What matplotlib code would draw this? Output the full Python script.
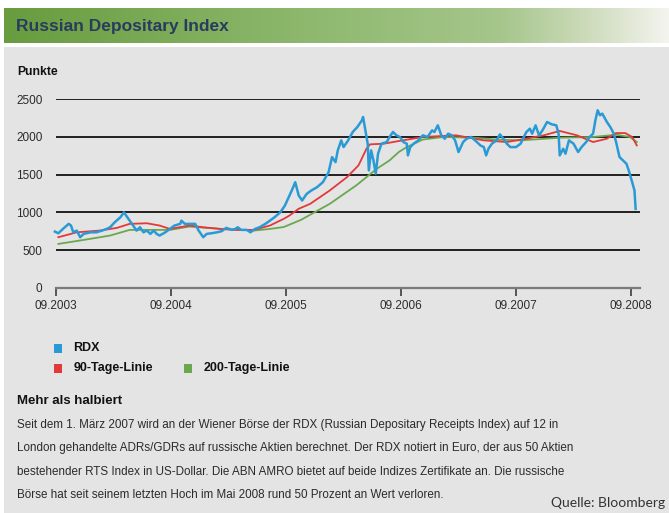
import numpy as np
import matplotlib
matplotlib.use("Agg")
import matplotlib.pyplot as plt
from matplotlib.colors import LinearSegmentedColormap
from matplotlib.patches import Rectangle

# RDX daily close (decimal year, points)
rdx_t = [2003.66, 2003.69, 2003.73, 2003.78, 2003.80, 2003.82, 2003.85, 2003.88, 2003.91, 2003.97,
         2004.02, 2004.07, 2004.11, 2004.14, 2004.18, 2004.23, 2004.26, 2004.29, 2004.31, 2004.34,
         2004.37, 2004.40, 2004.43, 2004.46, 2004.49, 2004.52, 2004.545, 2004.57, 2004.62, 2004.66,
         2004.70, 2004.75, 2004.76, 2004.79, 2004.83, 2004.88, 2004.91, 2004.95, 2004.98, 2005.02,
         2005.07, 2005.11, 2005.15, 2005.20, 2005.23, 2005.25, 2005.28, 2005.33, 2005.36, 2005.40,
         2005.44, 2005.49, 2005.53, 2005.57, 2005.62, 2005.66, 2005.68, 2005.72, 2005.75, 2005.78,
         2005.81, 2005.85, 2005.89, 2005.94, 2005.99, 2006.04, 2006.07, 2006.10, 2006.12, 2006.15,
         2006.17, 2006.21, 2006.25, 2006.29, 2006.33, 2006.34, 2006.36, 2006.38, 2006.39, 2006.41,
         2006.43, 2006.45, 2006.47, 2006.50, 2006.545, 2006.57, 2006.60, 2006.63, 2006.66, 2006.69,
         2006.72, 2006.73, 2006.75, 2006.78, 2006.82, 2006.86, 2006.90, 2006.94, 2006.96, 2006.99,
         2007.02, 2007.05, 2007.08, 2007.11, 2007.14, 2007.17, 2007.19, 2007.21, 2007.24, 2007.28,
         2007.33, 2007.36, 2007.39, 2007.41, 2007.43, 2007.46, 2007.50, 2007.53, 2007.56, 2007.59,
         2007.62, 2007.67, 2007.71, 2007.73, 2007.76, 2007.79, 2007.81, 2007.84, 2007.87, 2007.90,
         2007.94, 2007.98, 2008.02, 2008.04, 2008.05, 2008.08, 2008.10, 2008.13, 2008.17, 2008.21,
         2008.24, 2008.28, 2008.31, 2008.34, 2008.36, 2008.38, 2008.40, 2008.42, 2008.46, 2008.49,
         2008.52, 2008.54, 2008.57, 2008.60, 2008.63, 2008.65, 2008.68, 2008.70, 2008.71]
rdx_v = [745, 722, 780, 847, 825, 735, 758, 670, 714, 735,
         735, 758, 780, 802, 868, 935, 1000, 935, 890, 825,
         758, 802, 735, 758, 714, 758, 714, 692, 735, 780,
         825, 847, 890, 847, 847, 847, 758, 670, 714, 722,
         735, 750, 794, 767, 780, 802, 767, 767, 735, 780,
         802, 847, 890, 935, 1000, 1090, 1157, 1290, 1400, 1224,
         1157, 1246, 1290, 1334, 1400, 1533, 1733, 1666, 1822, 1955,
         1866, 1955, 2066, 2132, 2221, 2265, 2088, 1911, 1556, 1822,
         1689, 1512, 1778, 1911, 1932, 2000, 2066, 2022, 2000, 1933,
         1911, 1756, 1866, 1911, 1955, 2022, 2000, 2088, 2066, 2155,
         2022, 1977, 2044, 2022, 1955, 1800, 1866, 1933, 1977, 2000,
         1933, 1888, 1866, 1756, 1844, 1911, 1955, 2035, 1977, 1911,
         1866, 1866, 1911, 1977, 2066, 2110, 2044, 2155, 2022, 2088,
         2199, 2168, 2155, 2044, 1756, 1844, 1778, 1955, 1911, 1800,
         1866, 1933, 2000, 2044, 2221, 2354, 2288, 2310, 2199, 2132,
         2044, 1933, 1733, 1689, 1645, 1556, 1400, 1290, 1046]

# 90-Tage-Linie
ma90_t = [2003.69, 2003.85, 2004.05, 2004.20, 2004.31, 2004.46, 2004.57, 2004.66, 2004.83, 2004.95,
          2005.10, 2005.24, 2005.39, 2005.53, 2005.65, 2005.70, 2005.78, 2005.88, 2006.05, 2006.20,
          2006.30, 2006.37, 2006.40, 2006.52, 2006.65, 2006.86, 2007.15, 2007.39, 2007.59, 2007.76,
          2007.91, 2008.05, 2008.20, 2008.34, 2008.46, 2008.54, 2008.62, 2008.68, 2008.72]
ma90_v = [670, 735, 758, 794, 847, 855, 825, 780, 825, 802,
          780, 767, 767, 825, 914, 958, 1047, 1113, 1290, 1467,
          1623, 1845, 1902, 1911, 1946, 2000, 2022, 1955, 1933, 1977,
          2022, 2080, 2022, 1933, 1977, 2052, 2052, 2000, 1888]

# 200-Tage-Linie
ma200_t = [2003.69, 2003.91, 2004.14, 2004.31, 2004.49, 2004.66, 2004.83, 2005.10, 2005.39, 2005.53,
           2005.65, 2005.80, 2006.05, 2006.28, 2006.46, 2006.57, 2006.65, 2006.72, 2006.86, 2007.04,
           2007.30, 2007.50, 2007.71, 2008.05, 2008.34, 2008.54, 2008.66, 2008.72]
ma200_v = [581, 634, 692, 767, 767, 767, 811, 780, 758, 780,
           805, 900, 1113, 1357, 1579, 1689, 1800, 1866, 1966, 2000,
           1990, 1966, 1955, 1990, 2000, 2030, 2000, 1933]

y_ticks = [0, 500, 1000, 1500, 2000, 2500]
x_ticks = [2003.667, 2004.667, 2005.667, 2006.667, 2007.667, 2008.667]
x_labels = ["09.2003", "09.2004", "09.2005", "09.2006", "09.2007", "09.2008"]

body = ["Seit dem 1. M\u00e4rz 2007 wird an der Wiener B\u00f6rse der RDX (Russian Depositary Receipts Index) auf 12 in",
        "London gehandelte ADRs/GDRs auf russische Aktien berechnet. Der RDX notiert in Euro, der aus 50 Aktien",
        "bestehender RTS Index in US-Dollar. Die ABN AMRO bietet auf beide Indizes Zertifikate an. Die russische",
        "B\u00f6rse hat seit seinem letzten Hoch im Mai 2008 rund 50 Prozent an Wert verloren."]

BLUE = "#2a9ad6"
RED = "#e2393a"
GREEN = "#6aa84f"
GREY_BG = "#e4e4e4"
TXT = "#2b2b2b"
SANS = ["Liberation Sans Narrow", "Liberation Sans", "DejaVu Sans"]

W, H = 669, 513
fig = plt.figure(figsize=(W / 100, H / 100), dpi=100, facecolor="white")

def fx(px):
    return px / W

def fy(py):
    return 1 - py / H

# grey panel and header band
fig.patches.append(Rectangle((fx(4), 0), fx(665), fy(47), transform=fig.transFigure,
                             facecolor=GREY_BG, edgecolor="none", zorder=-10))
hdr = fig.add_axes([fx(4), fy(43), fx(665), fy(8) - fy(43)], zorder=-5)
cmap = LinearSegmentedColormap.from_list("hdr", [(0, "#689c3f"), (0.45, "#8db86d"),
                                                  (0.75, "#a6c68c"), (0.88, "#cddbbb"),
                                                  (1, "#f4f4ef")])
hdr.imshow(np.linspace(0, 1, 256)[None, :], aspect="auto", cmap=cmap, extent=[0, 1, 0, 1])
hdr.set_axis_off()
fig.text(fx(16), fy(26), "Russian Depositary Index", family=SANS, fontweight="bold",
         fontsize=12.5, color="#2a3c5e", va="center", ha="left")

# chart
ax = fig.add_axes([fx(55.7), fy(287.7), fx(640) - fx(55.7), fy(99.3) - fy(287.7)], zorder=5)
ax.set_facecolor("none")
ax.set_xlim(2003.667, 2008.748)
ax.set_ylim(0, 2500)
for v in y_ticks[1:]:
    ax.axhline(v, color="#111111", lw=1.3, zorder=1)
ax.plot(ma200_t, ma200_v, color=GREEN, lw=1.3, zorder=2)
ax.plot(ma90_t, ma90_v, color=RED, lw=1.3, zorder=3)
ax.plot(rdx_t, rdx_v, color=BLUE, lw=1.8, zorder=4, clip_on=False)

for s in ["top", "right", "left"]:
    ax.spines[s].set_visible(False)
ax.spines["bottom"].set_color("#7a7a7a")
ax.spines["bottom"].set_linewidth(1.6)
ax.set_yticks(y_ticks)
ax.set_yticklabels([str(v) for v in y_ticks], family=SANS, fontsize=8.5, color=TXT)
ax.tick_params(axis="y", length=0, pad=9.5)
ax.set_xticks(x_ticks)
ax.set_xticklabels(x_labels, family=SANS, fontsize=8.5, color=TXT)
ax.tick_params(axis="x", direction="out", length=5.5, width=1.4, color="#555555", pad=3.5)

fig.text(fx(17), fy(72), "Punkte", family=SANS, fontweight="bold", fontsize=8.7,
         color="#111111", va="center")

# legend
legend_items = [("RDX", BLUE, 53.5, 348), ("90-Tage-Linie", RED, 53.5, 368),
                ("200-Tage-Linie", GREEN, 183.5, 368)]
for name, col, lx, ly in legend_items:
    fig.patches.append(Rectangle((fx(lx), fy(ly + 4.5)), fx(8), fy(ly - 4.5) - fy(ly + 4.5),
                                 transform=fig.transFigure, facecolor=col, edgecolor="none"))
    fig.text(fx(lx + 20), fy(ly), name, family=SANS, fontweight="bold", fontsize=9,
             color="#111111", va="center")

fig.text(fx(17), fy(401), "Mehr als halbiert", family=SANS, fontweight="bold", fontsize=9.5,
         color="#111111", va="center")
for i, line in enumerate(body):
    fig.text(fx(17), fy(425 + i * 23.3), line, family=SANS, fontsize=8.4, color=TXT, va="center")

fig.text(fx(665), fy(503), "Quelle: Bloomberg", family=["Lato", "DejaVu Sans"], fontsize=10,
         color="#333333", va="center", ha="right")

fig.savefig("out.png", dpi=100, facecolor=fig.get_facecolor())
